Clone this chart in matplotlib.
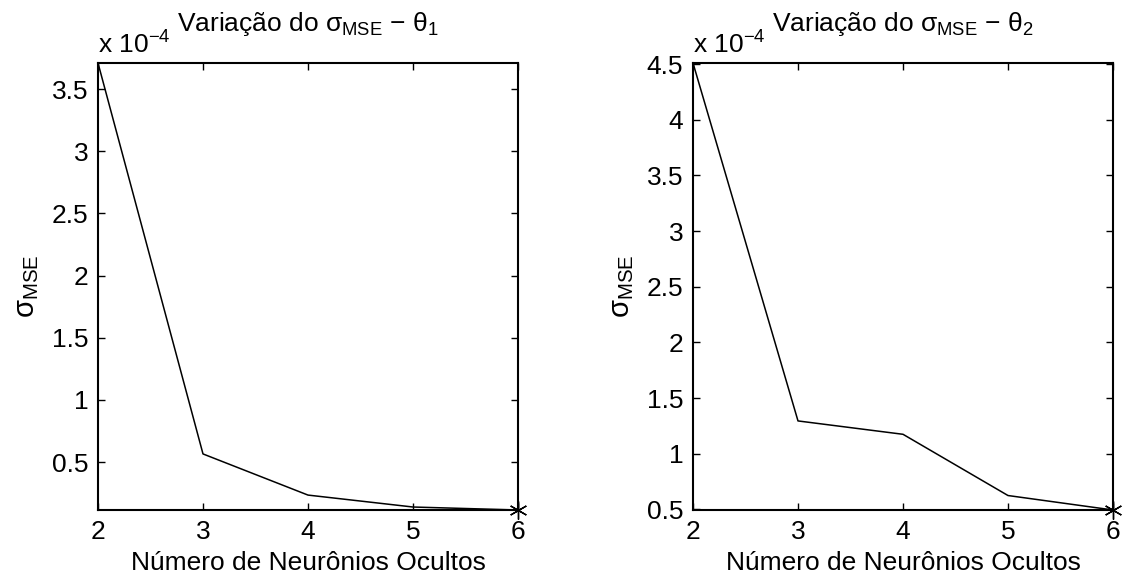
import matplotlib
matplotlib.use('Agg')
import matplotlib.pyplot as plt

plt.rcParams['font.family'] = ['Liberation Sans', 'DejaVu Sans']
plt.rcParams['mathtext.fontset'] = 'custom'
plt.rcParams['mathtext.rm'] = 'Liberation Sans'
plt.rcParams['mathtext.it'] = 'Liberation Sans'
plt.rcParams['mathtext.sf'] = 'Liberation Sans'

# neuronios ocultos
neurons = [2, 3, 4, 5, 6]

# sigma MSE (x 1e-4) for theta1 and theta2
sigma_theta1 = [3.71, 0.565, 0.234, 0.138, 0.114]
sigma_theta2 = [4.51, 1.295, 1.175, 0.625, 0.495]

yticks_1 = [0.5, 1, 1.5, 2, 2.5, 3, 3.5]
yticks_2 = [0.5, 1, 1.5, 2, 2.5, 3, 3.5, 4, 4.5]
ytick_labels_1 = ['0.5', '1', '1.5', '2', '2.5', '3', '3.5']
ytick_labels_2 = ['0.5', '1', '1.5', '2', '2.5', '3', '3.5', '4', '4.5']

titles = [r'Variação do $\mathregular{\sigma_{MSE}}$ $\mathregular{-}$ $\mathregular{\theta_1}$',
          r'Variação do $\mathregular{\sigma_{MSE}}$ $\mathregular{-}$ $\mathregular{\theta_2}$']

fs = 19

fig = plt.figure(figsize=(11.22, 5.79), dpi=100)
ax1 = fig.add_axes([98 / 1122, 69 / 579, 420 / 1122, 447 / 579])
ax2 = fig.add_axes([693 / 1122, 69 / 579, 420 / 1122, 447 / 579])

panels = [(ax1, sigma_theta1, yticks_1, ytick_labels_1, titles[0]),
          (ax2, sigma_theta2, yticks_2, ytick_labels_2, titles[1])]

for ax, vals, yt, ytl, title in panels:
    ax.plot(neurons, vals, color='black', linewidth=1.1)
    # asterisk marker on last point (matlab style '*')
    ax.plot(neurons[-1], vals[-1], marker=(6, 2, 0), color='black', markersize=13,
            markeredgewidth=1.0, linestyle='none', clip_on=False)
    ax.set_xlim(neurons[0], neurons[-1])
    ax.set_ylim(min(vals), max(vals))
    ax.set_xticks(neurons)
    ax.set_yticks(yt)
    ax.set_yticklabels(ytl)
    ax.tick_params(direction='in', top=True, right=True, labelsize=fs,
                   length=5, width=1, pad=7)
    for s in ax.spines.values():
        s.set_linewidth(1.5)
    ax.set_xlabel('Número de Neurônios Ocultos', fontsize=fs, labelpad=5)
    ax.set_ylabel(r'$\mathregular{\sigma_{MSE}}$', fontsize=21, labelpad=8)
    ax.set_title(title, fontsize=fs, pad=23)
    ax.text(0, 1.01, r'x 10$^{\mathregular{-4}}$', transform=ax.transAxes,
            ha='left', va='bottom', fontsize=fs)

fig.savefig('out.png', dpi=100)
